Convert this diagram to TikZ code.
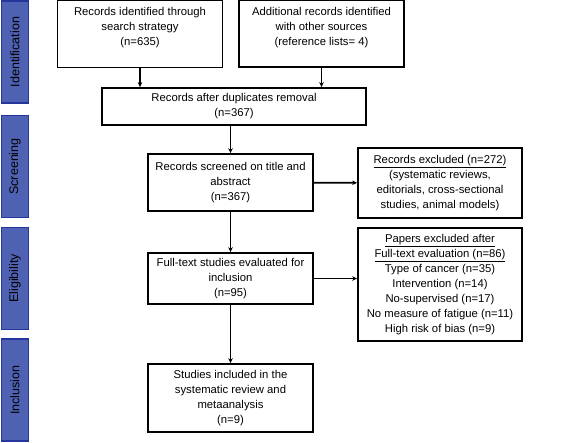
\documentclass[tikz,border=0pt]{standalone}
\usepackage{fontspec}
\setmainfont{Liberation Sans}
\usetikzlibrary{arrows.meta}
\definecolor{barfill}{HTML}{4F61B2}
\definecolor{barline}{HTML}{24369A}

\begin{document}
\begin{tikzpicture}[
                x = 1pt, y = -1pt,
                > = {Stealth[length=5pt,width=4.5pt]}, % arrow head style
                line width = 1.7pt,
                font = \fontsize{11.3}{15}\selectfont
        ]

        \tikzset{
            box/.style = {
                draw = black,
                fill = white,
                align = center,
                inner sep = 0pt,
                minimum width = 165pt
            },
            phase/.style = {
                draw = barline,
                fill = barfill,
                line width = 1.8pt,
                inner sep = 0pt,
                minimum width = 102pt, % along the text
                minimum height = 27pt,
                rotate = 90,
                font = \fontsize{12.5}{15}\selectfont
            }
        }

        \useasboundingbox (0,0) rectangle (569,442);

        % phases
        \node[phase] (P1) at (15,52) {Identification};
        \node[phase] (P2) at (15,166.5) {Screening};
        \node[phase] (P3) at (15,278.5) {Eligibility};
        \node[phase] (P4) at (15,390) {Inclusion};

        % flow
        \node[box, minimum height=67pt] (SEARCH) at (140,34) {Records identified through\\search strategy\\(n=635)\\ ~};
        \node[box, minimum height=67pt] (OTHER) at (321.5,33.5) {Additional records identified\\with other sources\\(reference lists= 4)\\ ~};
        \node[box, minimum width=264pt, minimum height=37pt] (DUPL) at (234,106.5) {Records after duplicates removal\\(n=367)};
        \node[box, minimum height=57pt] (SCREEN) at (230.5,182.5) {Records screened on title and\\abstract\\(n=367)};
        \node[box, minimum height=51pt] (FULL) at (230.5,278.5) {Full-text studies evaluated for\\inclusion\\(n=95)};
        \node[box, minimum height=68pt] (INCL) at (230.5,398) {Studies included in the\\systematic review and\\metaanalysis\\(n=9)};
        \node[box, minimum width=164pt, minimum height=70pt] (EXCL1) at (440,183) {\underline{Records excluded (n=272)}\\(systematic reviews,\\editorials, cross-sectional\\studies, animal models)};
        \node[box, minimum width=164pt, minimum height=113pt] (EXCL2) at (440,284.5) {\underline{Papers excluded after}\\\underline{Full-text evaluation (n=86)}\\Type of cancer (n=35)\\Intervention (n=14)\\No-supervised (n=17)\\No measure of fatigue (n=11)\\High risk of bias (n=9)};

        \draw[->] (SEARCH) -- (SEARCH |- DUPL.north);
        \draw[->] (OTHER) -- (OTHER |- DUPL.north);
        \draw[->] (DUPL.south -| SCREEN) -- (SCREEN);
        \draw[->] (SCREEN) -- (FULL);
        \draw[->] (FULL) -- (INCL);
        \draw[->] (SCREEN) -- (EXCL1);
        \draw[->] (FULL) -- (FULL -| EXCL2.west);

        \end{tikzpicture}
\end{document}
